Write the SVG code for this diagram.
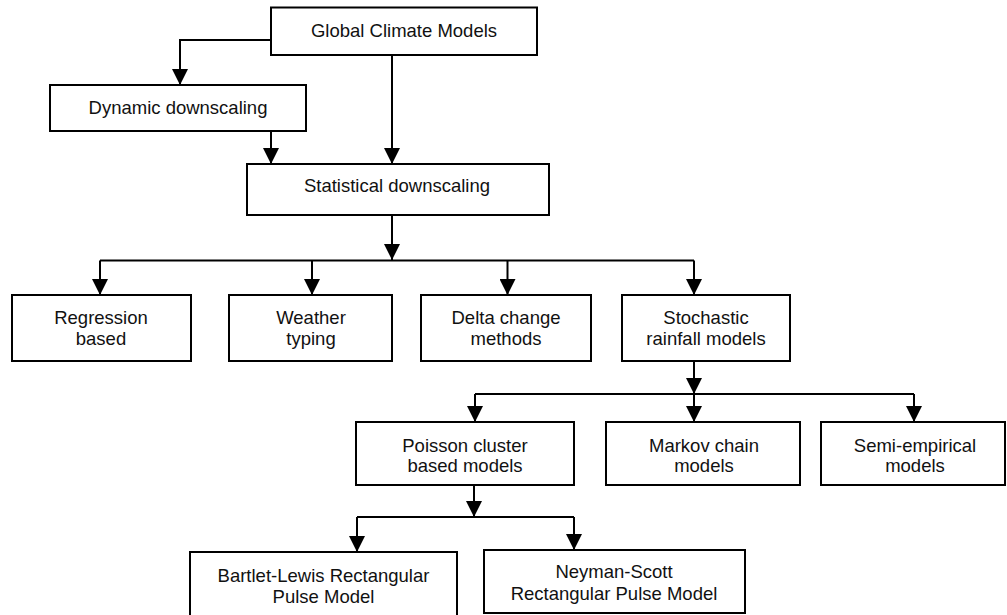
<svg xmlns="http://www.w3.org/2000/svg" width="1007" height="615" viewBox="0 0 1007 615">
<style>
.box{fill:#fff;stroke:#000;stroke-width:2}
.con{fill:none;stroke:#000;stroke-width:2}
.arr{fill:none;stroke:#000;stroke-width:2;marker-end:url(#ah)}
text{font-family:"Liberation Sans",Arial,Helvetica,sans-serif;font-size:18.5px;fill:#111;text-anchor:middle}
</style>
<defs>
<marker id="ah" markerUnits="userSpaceOnUse" markerWidth="16" markerHeight="16" viewBox="0 0 16 16" refX="16" refY="8" orient="auto">
<path d="M0,0 L16,8 L0,16 z" fill="#000"/>
</marker>
</defs>
<rect width="1007" height="615" fill="#fff"/>
<g id="connectors">
<path class="arr" d="M271,40 H180 V85"/>
<path class="arr" d="M392,55 V164"/>
<path class="arr" d="M271,131 V164"/>
<path class="arr" d="M392,215 V260"/>
<path class="con" d="M100,260.5 H694"/>
<path class="arr" d="M100,260.5 V295"/>
<path class="arr" d="M312,260.5 V295"/>
<path class="arr" d="M507.5,260.5 V295"/>
<path class="arr" d="M694,260.5 V295"/>
<path class="arr" d="M694,361 V394"/>
<path class="con" d="M475,394 H914"/>
<path class="arr" d="M475,394 V422"/>
<path class="arr" d="M694,394 V422"/>
<path class="arr" d="M914,394 V422"/>
<path class="arr" d="M474,485 V517"/>
<path class="con" d="M357,517 H574"/>
<path class="arr" d="M357,517 V552"/>
<path class="arr" d="M574,517 V550"/>
</g>
<g id="global">
<rect class="box" x="271" y="7.5" width="266" height="47.5"/>
<text x="404" y="37">Global Climate Models</text>
</g>
<g id="dynamic">
<rect class="box" x="50" y="85" width="256" height="46"/>
<text x="178" y="114">Dynamic downscaling</text>
</g>
<g id="statistical">
<rect class="box" x="247" y="164" width="302" height="51"/>
<text x="397" y="192">Statistical downscaling</text>
</g>
<g id="regression">
<rect class="box" x="12" y="295" width="179" height="66"/>
<text x="101" y="324">Regression</text>
<text x="101" y="345">based</text>
</g>
<g id="weather">
<rect class="box" x="229" y="295" width="163" height="66"/>
<text x="311" y="324">Weather</text>
<text x="311" y="345">typing</text>
</g>
<g id="delta">
<rect class="box" x="421" y="295" width="170" height="66"/>
<text x="506" y="324">Delta change</text>
<text x="506" y="345">methods</text>
</g>
<g id="stochastic">
<rect class="box" x="622" y="295" width="168" height="66"/>
<text x="706" y="324">Stochastic</text>
<text x="706" y="345">rainfall models</text>
</g>
<g id="poisson">
<rect class="box" x="356" y="422" width="218" height="63"/>
<text x="465" y="452">Poisson cluster</text>
<text x="465" y="472">based models</text>
</g>
<g id="markov">
<rect class="box" x="606" y="422" width="194" height="63"/>
<text x="704" y="452">Markov chain</text>
<text x="704" y="472">models</text>
</g>
<g id="semi">
<rect class="box" x="821" y="422" width="184" height="63"/>
<text x="915" y="452">Semi-empirical</text>
<text x="915" y="472">models</text>
</g>
<g id="bartlet">
<rect class="box" x="190" y="552" width="267" height="68"/>
<text x="323.5" y="582">Bartlet-Lewis Rectangular</text>
<text x="323.5" y="603">Pulse Model</text>
</g>
<g id="neyman">
<rect class="box" x="484" y="550" width="261" height="63"/>
<text x="614" y="578">Neyman-Scott</text>
<text x="614" y="600">Rectangular Pulse Model</text>
</g>
</svg>
